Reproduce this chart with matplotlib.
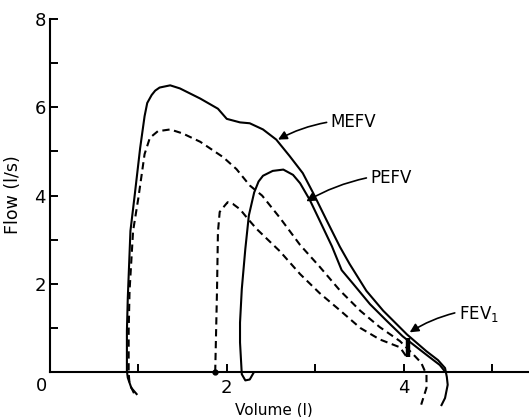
# Maximal and partial expiratory flow-volume curves (MEFV / PEFV)
import matplotlib
matplotlib.use("Agg")
from matplotlib import pyplot as plt

# solid curves
mefv_x = [0.98, 0.92, 0.88, 0.87, 0.87, 0.88, 0.91, 0.96, 1.02, 1.07, 1.10, 1.15, 1.19, 1.24,
          1.36, 1.47, 1.70, 1.90, 2.00, 2.15, 2.26, 2.41, 2.56, 2.71, 2.86, 2.98, 3.13, 3.28,
          3.39, 3.58, 3.77, 3.96, 4.04, 4.26, 4.39, 4.47, 4.49, 4.50, 4.47, 4.43]
mefv_y = [-0.50, -0.36, -0.13, 0.02, 0.93, 1.68, 3.20, 4.04, 5.08, 5.80, 6.10, 6.28, 6.38, 6.45,
          6.50, 6.43, 6.20, 5.97, 5.74, 5.66, 5.64, 5.50, 5.27, 4.90, 4.51, 4.05, 3.44, 2.84,
          2.45, 1.84, 1.39, 1.01, 0.85, 0.47, 0.27, 0.09, -0.11, -0.29, -0.59, -0.75]

pefv_x = [2.30, 2.26, 2.21, 2.17, 2.15, 2.15, 2.17, 2.21, 2.25, 2.31, 2.36, 2.41, 2.52, 2.64,
          2.75, 2.83, 2.94, 3.05, 3.19, 3.30, 3.43, 3.62, 3.81, 3.99, 4.26, 4.41, 4.47]
pefv_y = [-0.03, -0.17, -0.19, -0.05, 0.67, 1.12, 1.88, 2.79, 3.55, 4.07, 4.32, 4.45, 4.56, 4.59,
          4.47, 4.28, 3.90, 3.44, 2.85, 2.31, 2.00, 1.54, 1.16, 0.81, 0.39, 0.16, 0.01]

# dashed curves
mefv2_x = [0.95, 0.90, 0.89, 0.89, 0.90, 0.94, 1.00, 1.07, 1.13, 1.22, 1.36, 1.50, 1.70, 1.96,
           2.11, 2.26, 2.40, 2.60, 2.83, 3.05, 3.28, 3.51, 3.73, 3.96, 4.11, 4.20, 4.26, 4.26, 4.20]
mefv2_y = [-0.48, -0.27, -0.02, 0.93, 1.84, 3.20, 3.95, 4.94, 5.31, 5.46, 5.50, 5.41, 5.22, 4.87,
           4.60, 4.23, 4.00, 3.50, 2.88, 2.39, 1.85, 1.39, 1.02, 0.70, 0.40, 0.21, -0.06, -0.36, -0.74]

pefv2_x = [1.87, 1.87, 1.89, 1.90, 1.92, 1.98, 2.01, 2.07, 2.15, 2.24, 2.34, 2.60, 2.83, 3.05,
           3.28, 3.51, 3.73, 3.96, 4.05]
pefv2_y = [0.00, 0.07, 1.89, 3.17, 3.63, 3.78, 3.85, 3.81, 3.69, 3.47, 3.24, 2.74, 2.22, 1.79,
           1.40, 1.00, 0.74, 0.56, 0.30]

# FEV1 mark
fev1_x = 4.05
fev1_y = [0.33, 0.78]

dash = (0, (3.5, 2.2))

fig = plt.figure(figsize=(5.29, 4.17), dpi=100)
ax = fig.add_axes([0, 0, 1, 1])

ax.plot(mefv_x, mefv_y, color="black", lw=1.5)
ax.plot(pefv_x, pefv_y, color="black", lw=1.5)
ax.plot(mefv2_x, mefv2_y, color="black", lw=1.5, linestyle=dash)
ax.plot(pefv2_x, pefv2_y, color="black", lw=1.5, linestyle=dash)
ax.plot(pefv2_x[0], pefv2_y[0], "o", color="black", ms=3.5)
ax.plot([fev1_x, fev1_x], fev1_y, color="black", lw=3.2, solid_capstyle="butt")

# labels with arrows
arrow = dict(arrowstyle="-|>", color="black", lw=1.2, mutation_scale=13,
             connectionstyle="arc3,rad=0.08", shrinkA=0, shrinkB=0)
ax.annotate("", xy=(2.58, 5.27), xytext=(3.13, 5.66), arrowprops=arrow)
ax.text(3.17, 5.68, "MEFV", fontsize=12, ha="left", va="center")
ax.annotate("", xy=(2.90, 3.87), xytext=(3.58, 4.40), arrowprops=arrow)
ax.text(3.62, 4.40, "PEFV", fontsize=12, ha="left", va="center")
ax.annotate("", xy=(4.07, 0.90), xytext=(4.58, 1.34), arrowprops=arrow)
ax.text(4.63, 1.31, "FEV$_1$", fontsize=12, ha="left", va="center")

# axes
ax.set_xlim(-0.566, 5.42)
ax.set_ylim(-1.02, 8.435)
for side in ["top", "right"]:
    ax.spines[side].set_visible(False)
ax.spines["left"].set_position(("data", 0))
ax.spines["bottom"].set_position(("data", 0))
ax.spines["left"].set_bounds(0, 8)
ax.spines["bottom"].set_bounds(0, 5.42)
ax.spines["left"].set_linewidth(1.5)
ax.spines["bottom"].set_linewidth(1.5)

ax.set_xticks([1, 2, 3, 4, 5])
ax.set_xticklabels(["", "2", "", "4", ""])
ax.set_yticks([1, 2, 3, 4, 5, 6, 7, 8])
ax.set_yticklabels(["", "2", "", "4", "", "6", "", "8"])
ax.tick_params(axis="both", direction="in", length=6, width=1.4, labelsize=13)
ax.tick_params(axis="y", pad=3)
ax.tick_params(axis="x", pad=5)

ax.text(-0.10, -0.32, "0", fontsize=13, ha="center", va="center")
ax.text(-0.42, 4.02, "Flow (l/s)", fontsize=12.5, rotation=90, ha="center", va="center")
ax.text(2.53, -0.85, "Volume (l)", fontsize=11, ha="center", va="center")

fig.savefig("out.png", dpi=100)
